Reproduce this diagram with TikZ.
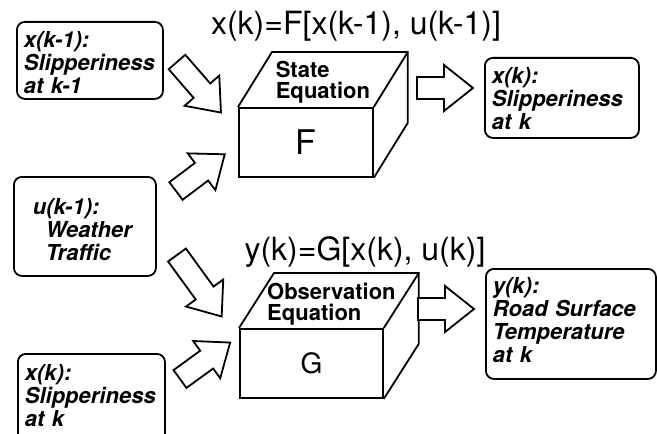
\documentclass[tikz,border=0pt]{standalone}
\usepackage{fontspec}
\setmainfont{TeX Gyre Heros}
\usetikzlibrary{calc}

\begin{document}
\begin{tikzpicture}[
        x=0.5pt, y=-0.5pt,
        line width=0.9pt,
        infobox/.style={draw, rounded corners=4pt, anchor=north west, align=left,
                        inner xsep=3.5pt, inner ysep=0pt,
                        font=\fontsize{11}{11.5}\selectfont\bfseries\itshape},
        face/.style={draw, anchor=north west, inner sep=0pt},
        facelabel/.style={align=left, inner sep=0pt,
                          font=\fontsize{11}{10.5}\selectfont\bfseries},
        eqn/.style={anchor=base, inner sep=0pt, font=\fontsize{16}{18}\selectfont},
        pics/fatarrow/.style={code={
            \draw[line join=miter, fill=white] (0,-11) -- (#1-29,-11) -- (#1-29,-23)
                -- (#1,0) -- (#1-29,23) -- (#1-29,11) -- (0,11) -- cycle;}},
    ]
        \path[use as bounding box, clip] (0,0) rectangle (657,433);
        \node[infobox, text width=66pt, text height=13pt, text depth=25.5pt] (xprev) at (16,21)
            {x(k-1):\\Slipperiness\\at k-1};
        \node[infobox, text width=64pt, text height=19pt, text depth=30.5pt] (uprev) at (13,176)
            {\hspace*{6pt}u(k-1):\\\hspace*{12.5pt}Weather\\\hspace*{12.5pt}Traffic};
        \node[infobox, text width=66.5pt, text height=13.5pt, text depth=32.5pt] (xin) at (17,353)
            {x(k):\\Slipperiness\\at k};
        \node[infobox, text width=70pt, text height=13pt, text depth=27pt] (xnow) at (484,57)
            {x(k):\\Slipperiness\\at k};
        \node[infobox, text width=78pt, text height=12.5pt, text depth=42.5pt] (ynow) at (485,268)
            {y(k):\\Road Surface\\Temperature\\at k};
        \node[face, minimum width=67pt, minimum height=34.5pt,
              font=\fontsize{17}{17}\selectfont] (fbox) at (238,107) {F};
        \draw (fbox.north west) -- ++(34,-55) -- ($(fbox.north east)+(34,-55)$)
            -- ($(fbox.south east)+(34,-55)$) -- (fbox.south east)
            (fbox.north east) -- ++(34,-55);
        \node[facelabel] (ftop) at ($(fbox.north)+(17,-25)$) {State\\Equation};
        \node[face, minimum width=71.5pt, minimum height=34.5pt,
              font=\fontsize{14}{14}\selectfont] (gbox) at (239,328) {G};
        \draw (gbox.north west) -- ++(35,-55) -- ($(gbox.north east)+(35,-55)$)
            -- ($(gbox.south east)+(35,-55)$) -- (gbox.south east)
            (gbox.north east) -- ++(35,-55);
        \node[facelabel] (gtop) at ($(gbox.north)+(20,-24)$) {Observation\\Equation};
        \node[eqn] (eqf) at (356,35) {x(k)=F[x(k-1), u(k-1)]};
        \node[eqn] (eqg) at (365,260) {y(k)=G[x(k), u(k)]};
        \foreach \x/\y/\a/\len in {177/62/-49/67, 176/191/37/61, 177/255/-54/76,
                                   180/379/36/62, 417/88/0/56, 418/309/0/56} {
            \pic[rotate=\a] at (\x,\y) {fatarrow=\len};
        }
    \end{tikzpicture}
\end{document}
